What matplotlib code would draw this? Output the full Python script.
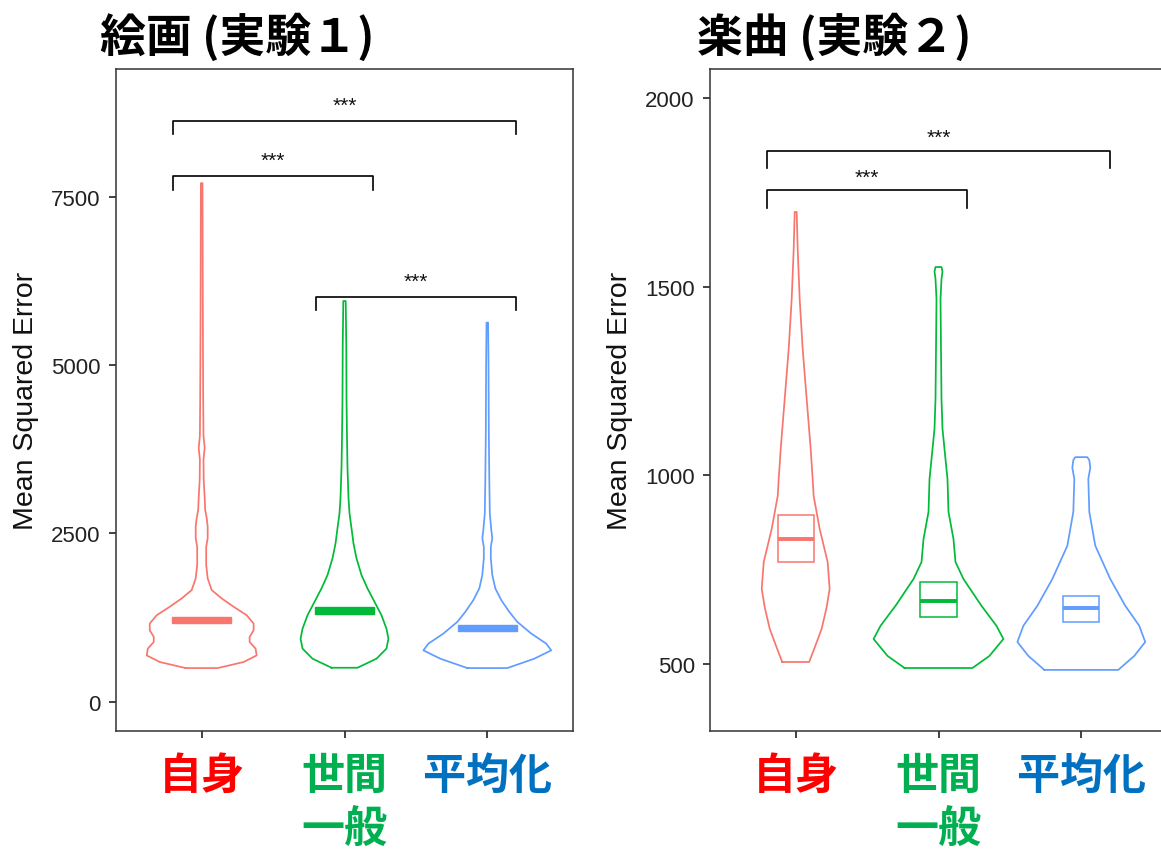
import numpy as np
import matplotlib
matplotlib.use("Agg")
import matplotlib.pyplot as plt
from matplotlib.patches import Rectangle

plt.rcParams['font.family'] = ['Liberation Sans', 'Noto Sans CJK JP', 'DejaVu Sans']

# --- データ ---
groups = ['自身', '世間\n一般', '平均化']
label_colors = ['#FF0000', '#00B050', '#0070C0']
violin_colors = ['#F8766D', '#00BA38', '#619CFF']

# 実験1 (絵画): バイオリンの輪郭 (y値, 半幅[px相当])
exp1_red_y = [502, 592, 690, 790, 890, 965, 1063, 1163, 1287, 1412, 1536, 1660, 1834, 2032,
              2300, 2430, 2600, 2730, 2850, 3030, 3300, 3600, 3770, 3950, 4500, 5500, 6500, 7700]
exp1_red_w = [16, 42, 55, 54, 48, 48, 52, 52, 45, 32, 20, 10, 6, 4.5,
              4.5, 6, 6, 5, 3.5, 3, 2, 1.8, 3, 1.8, 1.5, 1.2, 1, 0.8]
exp1_green_y = [507, 641, 790, 939, 1088, 1287, 1486, 1685, 1883, 2132, 2350, 2580, 2800, 3027,
                3474, 3921, 4518, 5263, 5950]
exp1_green_w = [13, 32, 42, 44, 42, 37, 30, 23, 17, 12, 9, 7, 5, 4,
                3, 2.5, 2, 1.8, 1.2]
exp1_blue_y = [502, 641, 765, 865, 1014, 1188, 1337, 1510, 1685, 1883, 2132, 2300, 2430, 2550,
               2800, 3300, 4000, 5000, 5630]
exp1_blue_w = [20, 47, 64, 59, 44, 30, 22, 14, 8, 5, 3.5, 3.5, 5, 4,
               2.5, 2, 1.5, 1.2, 0.8]
exp1_mean = [1210, 1357, 1100]
exp1_lo = [1165, 1312, 1058]
exp1_hi = [1255, 1402, 1142]

# 実験2 (楽曲)
exp2_red_y = [505, 550, 593, 650, 699, 770, 858, 945, 990, 1070, 1202, 1335, 1467, 1600, 1698]
exp2_red_w = [13.5, 20, 26, 31, 34, 32, 24, 18, 17, 15, 11, 7, 4, 2, 1]
exp2_green_y = [489, 521, 566, 601, 654, 725, 770, 831, 903, 990, 1043, 1123, 1202, 1335, 1467,
                1520, 1540, 1552]
exp2_green_w = [34, 51, 65, 58, 43, 25, 17, 15, 10, 9, 7, 4, 3, 2.5, 2, 3, 4, 3]
exp2_blue_y = [484, 521, 558, 601, 654, 725, 813, 903, 990, 1020, 1040, 1048]
exp2_blue_w = [37, 53, 64, 58, 44, 29, 14, 8, 7, 9, 8, 6]
exp2_mean = [831, 667, 648]
exp2_lo = [770, 625, 612]
exp2_hi = [895, 718, 680]

# 有意差の括弧: (x開始, x終了, 高さ, 先端)
exp1_sig = [(0.8, 3.2, 8618, 8424), (0.8, 2.2, 7813, 7604), (1.8, 3.2, 6009, 5815)]
exp2_sig = [(0.8, 3.2, 1860, 1815), (0.8, 2.2, 1755, 1708)]

PX_PER_UNIT = 143.0  # 横軸1単位あたりのピクセル


def draw_violin(ax, x, ys, ws, color):
    ys = np.array(ys, dtype=float)
    hw = np.array(ws, dtype=float) / PX_PER_UNIT
    xs = np.concatenate([x - hw, (x + hw)[::-1], [x - hw[0]]])
    yy = np.concatenate([ys, ys[::-1], [ys[0]]])
    ax.plot(xs, yy, color=color, lw=1.25, solid_joinstyle='round')


def draw_crossbar(ax, x, mean, lo, hi, color, half, filled):
    if filled:
        ax.add_patch(Rectangle((x - half, lo), 2 * half, hi - lo, facecolor=color,
                               edgecolor=color, lw=1.0, zorder=3))
    else:
        ax.add_patch(Rectangle((x - half, lo), 2 * half, hi - lo, facecolor='none',
                               edgecolor=color, lw=1.1, zorder=3))
        ax.plot([x - half, x + half], [mean, mean], color=color, lw=2.8, zorder=3,
                solid_capstyle='butt')


def draw_sig(ax, sigs, star_off):
    for x0, x1, y, tip in sigs:
        ax.plot([x0, x0, x1, x1], [tip, y, y, tip], color='black', lw=1.2)
        ax.text((x0 + x1) / 2, y + star_off, '***', ha='center', va='center',
                fontsize=15, color='#111111')


def style_axes(ax, ylim, yticks):
    ax.set_xlim(0.4, 3.6)
    ax.set_ylim(*ylim)
    ax.set_yticks(yticks)
    ax.set_xticks([1, 2, 3])
    ax.set_xticklabels(groups, fontsize=31, fontweight='bold',
                       family=['Noto Sans CJK JP'], linespacing=1.25)
    for lab, c in zip(ax.get_xticklabels(), label_colors):
        lab.set_color(c)
    ax.tick_params(axis='x', length=5, width=1.3, color='#333333', pad=11)
    ax.tick_params(axis='y', length=5, width=1.3, color='#333333', pad=6,
                   labelsize=16, labelcolor='#222222')
    for s in ax.spines.values():
        s.set_color('#333333')
        s.set_linewidth(1.1)
    ax.set_ylabel('Mean Squared Error', fontsize=20.5, color='#111111', labelpad=9)


fig = plt.figure(figsize=(11.61, 8.53), dpi=100)
W, H = 1161.0, 853.0
ax1 = fig.add_axes([116 / W, 121 / H, 457 / W, 662 / H])
ax2 = fig.add_axes([710 / W, 121 / H, 457 / W, 662 / H])

# 実験1
for i, (ys, ws) in enumerate([(exp1_red_y, exp1_red_w), (exp1_green_y, exp1_green_w),
                              (exp1_blue_y, exp1_blue_w)]):
    draw_violin(ax1, i + 1, ys, ws, violin_colors[i])
    draw_crossbar(ax1, i + 1, exp1_mean[i], exp1_lo[i], exp1_hi[i], violin_colors[i], 0.205, True)
draw_sig(ax1, exp1_sig, 230)
style_axes(ax1, (-432, 9394), [0, 2500, 5000, 7500])

# 実験2
for i, (ys, ws) in enumerate([(exp2_red_y, exp2_red_w), (exp2_green_y, exp2_green_w),
                              (exp2_blue_y, exp2_blue_w)]):
    draw_violin(ax2, i + 1, ys, ws, violin_colors[i])
    draw_crossbar(ax2, i + 1, exp2_mean[i], exp2_lo[i], exp2_hi[i], violin_colors[i], 0.127, False)
draw_sig(ax2, exp2_sig, 36)
style_axes(ax2, (322, 2077), [500, 1000, 1500, 2000])

# タイトル
fig.text(100 / W, 1 - 38 / H, '絵画 (実験１)', fontsize=33, fontweight='bold',
         family=['Noto Sans CJK JP'], ha='left', va='center')
fig.text(697 / W, 1 - 38 / H, '楽曲 (実験２)', fontsize=33, fontweight='bold',
         family=['Noto Sans CJK JP'], ha='left', va='center')

plt.savefig('out.png', dpi=100)
